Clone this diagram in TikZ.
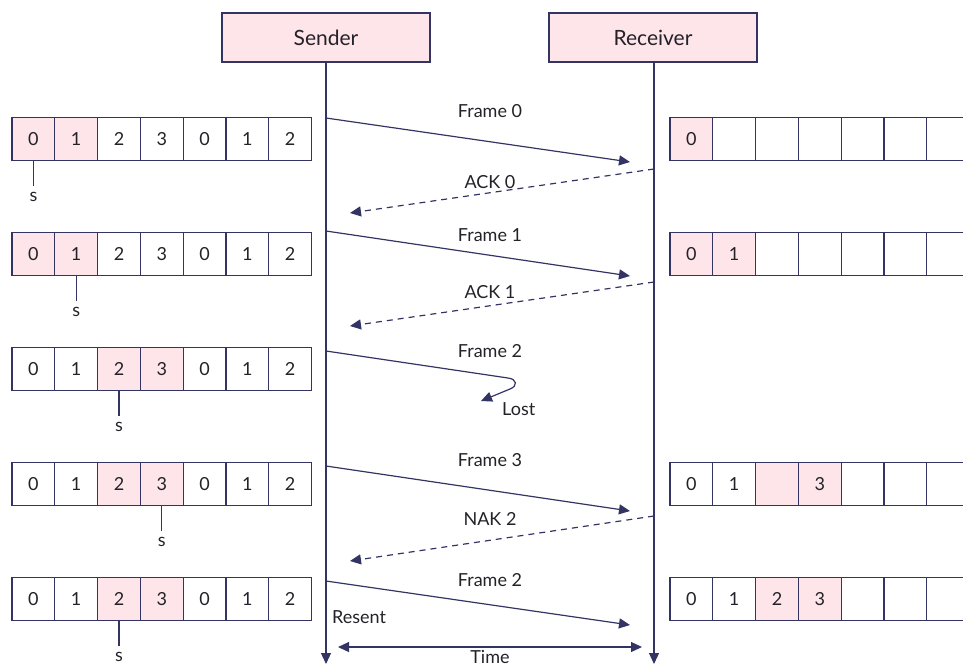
\documentclass[tikz,border=0pt]{standalone}
\usepackage{fontspec}
\setmainfont{Lato}
\usetikzlibrary{arrows.meta,positioning}
\definecolor{navy}{RGB}{52,52,100}
\definecolor{pinkfill}{RGB}{253,229,234}
\definecolor{txtcol}{RGB}{34,34,40}
\newcommand{\lblsize}{\fontsize{18}{21}\selectfont}

\begin{document}
\begin{tikzpicture}[
  x=1pt, y=-1pt,
  headbox/.style={
    draw=navy,
    fill=pinkfill,
    line width=1.2pt,
    minimum width=208pt,
    minimum height=49pt,
    text=txtcol,
    font=\fontsize{21}{25}\selectfont
  },
  cell/.style={
    draw=navy,
    fill=white,
    line width=1.2pt,
    minimum size=42.8pt,
    inner sep=0pt,
    text=txtcol,
    font=\lblsize
  },
  hot/.style={cell, fill=pinkfill},
  lbl/.style={text=txtcol, font=\lblsize, inner sep=1pt},
  slbl/.style={lbl, outer sep=5pt},
  msg/.style={
    -{Triangle[length=11pt,width=10pt]},
    draw=navy,
    line width=1.2pt
  },
  reply/.style={msg, dash pattern=on 6pt off 5pt},
  node distance=25pt
  ]
  \clip (0,0) rectangle (963,665);
  \useasboundingbox (0,0) rectangle (963,665);

  % sender and receiver with their lifelines
  \node[headbox] (sender) at (326,37.5) {Sender};
  \node[headbox] (receiver) at (653,37.5) {Receiver};
  \coordinate (sendEnd) at (326,664);
  \coordinate (recvEnd) at (654,664);
  \draw[msg] (sender) -- (sendEnd);
  \draw[msg] (receiver.south -| recvEnd) -- (recvEnd);

  % sender windows
  \foreach \r/\y/\a/\b/\sp in {1/139/0/1/0, 2/254/0/1/1, 3/369/2/3/2, 4/484/2/3/3, 5/599/2/3/2} {
    \foreach \i/\t in {0/0, 1/1, 2/2, 3/3, 4/0, 5/1, 6/2} {
      \ifnum\i=\a \def\st{hot}\else\ifnum\i=\b \def\st{hot}\else\def\st{cell}\fi\fi
      \node[\st] (L\r-\i) at ({12+42.8*(\i+0.5)},\y) {\t};
    }
    \node[slbl, below=of L\r-\sp] (s\r) {s};
    \draw[navy, line width=1.2pt] (L\r-\sp) -- (s\r);
  }

  % receiver windows
  \foreach \r/\y/\ta/\tb/\tc/\td/\fa/\fb/\fc/\fd in {
      1/139/0/{}/{}/{}/hot/cell/cell/cell,
      2/254/0/1/{}/{}/hot/hot/cell/cell,
      4/484/0/1/{}/3/cell/cell/hot/hot,
      5/599/0/1/2/3/cell/cell/hot/hot} {
    \node[\fa] (R\r-0) at (691.4,\y) {\ta};
    \node[\fb] (R\r-1) at (734.2,\y) {\tb};
    \node[\fc] (R\r-2) at (777,\y) {\tc};
    \node[\fd] (R\r-3) at (819.8,\y) {\td};
    \foreach \i in {4,5,6}
      \node[cell] (R\r-\i) at ({670+42.8*(\i+0.5)},\y) {};
  }

  % message end points
  \coordinate (f0a) at (326,118);  \coordinate (f0b) at (630,162);
  \coordinate (a0a) at (654,169);  \coordinate (a0b) at (350,213);
  \coordinate (f1a) at (326,231);  \coordinate (f1b) at (630,276);
  \coordinate (a1a) at (654,282);  \coordinate (a1b) at (350,326);
  \coordinate (f2a) at (326,351);  \coordinate (f2b) at (481,401);
  \coordinate (f3a) at (326,466);  \coordinate (f3b) at (630,511);
  \coordinate (n2a) at (654,516);  \coordinate (n2b) at (350,561);
  \coordinate (r2a) at (326,581);  \coordinate (r2b) at (630,625);
  \coordinate (tA) at (338,647);   \coordinate (tB) at (642,647);

  \draw[msg] (f0a) -- (f0b);
  \draw[reply] (a0a) -- (a0b);
  \draw[msg] (f1a) -- (f1b);
  \draw[reply] (a1a) -- (a1b);
  \draw[msg] (f2a) -- (508,378) .. controls (517,379) and (518,386) .. (510,389) -- (f2b);
  \draw[msg] (f3a) -- (f3b);
  \draw[reply] (n2a) -- (n2b);
  \draw[msg] (r2a) -- (r2b);
  \draw[msg, {Triangle[length=11pt,width=10pt]}-{Triangle[length=11pt,width=10pt]}] (tA) -- (tB);

  % labels
  \node[lbl] (lf0) at (490,111) {Frame 0};
  \node[lbl] (la0) at (490,182) {ACK 0};
  \node[lbl] (lf1) at (490,235) {Frame 1};
  \node[lbl] (la1) at (490,292) {ACK 1};
  \node[lbl] (lf2) at (490,351) {Frame 2};
  \node[lbl, anchor=west] (lost) at (501,409) {Lost};
  \node[lbl] (lf3) at (490,460) {Frame 3};
  \node[lbl] (ln2) at (490,519) {NAK 2};
  \node[lbl] (lr2) at (490,580) {Frame 2};
  \node[lbl, anchor=west] (resent) at (331,617) {Resent};
  \node[lbl, anchor=base] (time) at (490,663) {Time};

\end{tikzpicture}
\end{document}
